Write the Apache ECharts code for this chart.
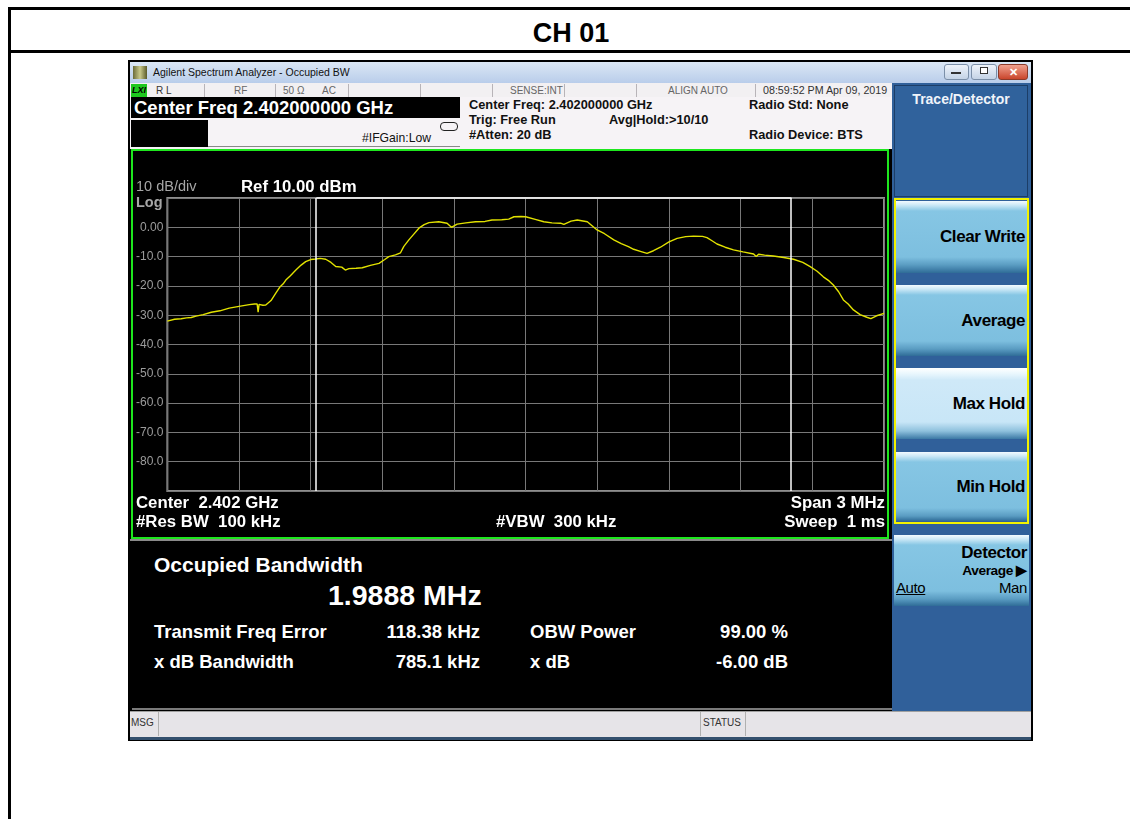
<!DOCTYPE html>
<html><head><meta charset="utf-8">
<script src="https://cdn.jsdelivr.net/npm/echarts@6/dist/echarts.min.js"></script>
<style>
html,body{margin:0;padding:0;background:#fff;width:1130px;height:819px;overflow:hidden;font-family:"Liberation Sans",Arial,sans-serif;}
.a{position:absolute;white-space:nowrap;}
.sb{position:absolute;top:84px;height:13px;font-size:10px;line-height:13px;color:#666;white-space:nowrap;}
.sep{position:absolute;top:84px;height:13px;width:1px;background:#b8b4b8;}
.hd{position:absolute;font-size:12.8px;font-weight:bold;color:#111;line-height:15px;white-space:nowrap;}
.btn{position:absolute;left:896px;width:131px;background:linear-gradient(to bottom,#f2faff 0px,#cde9f7 4px,#86c6e4 10px,#7dbfdf 56px,#5a9cc2 64px,#2f6c97 100%);}
.btn span{position:absolute;right:2px;font-weight:bold;font-size:17px;color:#000;letter-spacing:-0.4px;white-space:nowrap;}
.lp{position:absolute;color:#fff;font-weight:bold;white-space:nowrap;}
.r1{font-size:18.5px;line-height:22px;}
</style></head><body>
<!-- page frame -->
<div class="a" style="left:8px;top:7px;width:1130px;height:3px;background:#000"></div>
<div class="a" style="left:8px;top:7px;width:3px;height:812px;background:#000"></div>
<div class="a" style="left:8px;top:50px;width:1130px;height:3px;background:#000"></div>
<div class="a" style="left:471px;top:16px;width:200px;text-align:center;font-size:27px;font-weight:bold;line-height:34px;color:#000">CH 01</div>

<!-- screenshot window -->
<div class="a" style="left:128px;top:60px;width:905px;height:681px;background:#000"></div>
<div class="a" style="left:130px;top:62px;width:901px;height:21px;background:linear-gradient(to bottom,#dbe7f5,#b9cdea)"></div>
<div class="a" style="left:133px;top:66px;width:14px;height:13px;background:linear-gradient(to right,#6b6b3a,#c9c98a,#5b5b2a)"></div>
<div class="a" style="left:153px;top:66px;font-size:10.5px;line-height:13px;color:#111">Agilent Spectrum Analyzer - Occupied BW</div>
<div class="a" style="left:944px;top:64px;width:25px;height:16px;border-radius:3px;border:1px solid #7b8fa8;box-sizing:border-box;background:linear-gradient(#eef3fa,#c4d3e6)"></div>
<div class="a" style="left:951px;top:72px;width:10px;height:2px;background:#333"></div>
<div class="a" style="left:971px;top:64px;width:26px;height:16px;border-radius:3px;border:1px solid #7b8fa8;box-sizing:border-box;background:linear-gradient(#eef3fa,#c4d3e6)"></div>
<div class="a" style="left:980px;top:67px;width:8px;height:7px;border:1px solid #333;box-sizing:border-box;background:#fff"></div>
<div class="a" style="left:998px;top:64px;width:30px;height:16px;border-radius:3px;border:1px solid #8a3a2a;box-sizing:border-box;background:linear-gradient(#f0a08e,#c9452c);color:#fff;font-size:11px;font-weight:bold;text-align:center;line-height:14px">✕</div>

<!-- status row -->
<div class="a" style="left:130px;top:83px;width:762px;height:14px;background:#f2f0f2"></div>
<div class="a" style="left:131px;top:84px;width:16px;height:13px;background:#1ec81e;font-size:9px;font-weight:bold;font-style:italic;line-height:13px;color:#000;text-align:center">LXI</div>
<div class="sb" style="left:156px;color:#333">R L</div>
<div class="sep" style="left:204px"></div>
<div class="sb" style="left:234px">RF</div>
<div class="sep" style="left:275px"></div>
<div class="sb" style="left:283px">50 Ω</div>
<div class="sb" style="left:322px">AC</div>
<div class="sep" style="left:348px"></div>
<div class="sep" style="left:420px"></div>
<div class="sep" style="left:492px"></div>
<div class="sb" style="left:510px">SENSE:INT</div>
<div class="sep" style="left:564px"></div>
<div class="sep" style="left:636px"></div>
<div class="sb" style="left:668px">ALIGN AUTO</div>
<div class="sep" style="left:755px"></div>
<div class="sb" style="left:763px;color:#333;font-size:10.7px">08:59:52 PM Apr 09, 2019</div>

<!-- header -->
<div class="a" style="left:130px;top:97px;width:762px;height:52px;background:#f6f3f6"></div>
<div class="a" style="left:131px;top:97px;width:329px;height:21px;background:#000"></div>
<div class="a" style="left:134px;top:97px;font-size:18.5px;font-weight:bold;color:#fff;line-height:21px">Center Freq 2.402000000 GHz</div>
<div class="a" style="left:131px;top:120px;width:77px;height:27px;background:#000"></div>
<div class="a" style="left:208px;top:146px;width:252px;height:1px;background:#888"></div>
<div class="a" style="left:440px;top:122px;width:18px;height:9px;border:1px solid #222;border-radius:4px;box-sizing:border-box"></div>
<div class="a" style="left:362px;top:131px;font-size:12.2px;color:#111;line-height:14px">#IFGain:Low</div>
<div class="hd" style="left:469px;top:97px">Center Freq: 2.402000000 GHz</div>
<div class="hd" style="left:469px;top:112px">Trig: Free Run</div>
<div class="hd" style="left:469px;top:127px">#Atten: 20 dB</div>
<div class="hd" style="left:609px;top:112px">Avg|Hold:&gt;10/10</div>
<div class="hd" style="left:749px;top:97px">Radio Std: None</div>
<div class="hd" style="left:749px;top:127px">Radio Device: BTS</div>

<!-- display with chart -->
<div class="a" style="left:131px;top:149px;width:758px;height:390px;border:2px solid #1ee61e;box-sizing:border-box;background:#000">
  <div id="chart" style="position:absolute;left:0;top:0;width:754px;height:386px"></div>
</div>
<div class="a" style="left:130px;top:539px;width:762px;height:2px;background:#8a8a8a"></div>

<!-- lower results panel -->
<div class="a" style="left:132px;top:541px;width:756px;height:168px;background:#000"></div>
<div class="lp" style="left:154px;top:552px;font-size:21px;line-height:26px">Occupied Bandwidth</div>
<div class="lp" style="left:328px;top:578px;font-size:28.5px;line-height:34px">1.9888 MHz</div>
<div class="lp r1" style="left:154px;top:621px">Transmit Freq Error</div>
<div class="lp r1" style="left:330px;width:150px;text-align:right;top:621px">118.38 kHz</div>
<div class="lp r1" style="left:530px;top:621px">OBW Power</div>
<div class="lp r1" style="left:640px;width:148px;text-align:right;top:621px">99.00 %</div>
<div class="lp r1" style="left:154px;top:651px">x dB Bandwidth</div>
<div class="lp r1" style="left:330px;width:150px;text-align:right;top:651px">785.1 kHz</div>
<div class="lp r1" style="left:530px;top:651px">x dB</div>
<div class="lp r1" style="left:640px;width:148px;text-align:right;top:651px">-6.00 dB</div>
<div class="a" style="left:132px;top:708px;width:760px;height:2px;background:#7a7a7a"></div>

<!-- right softkey panel -->
<div class="a" style="left:892px;top:83px;width:139px;height:628px;background:#30609a"></div>
<div class="a" style="left:894px;top:85px;width:134px;height:112px;border:1px solid #1c3e68;box-sizing:border-box;background:#30629c"></div>
<div class="a" style="left:894px;top:91px;width:134px;text-align:center;font-size:14px;font-weight:bold;color:#f0f4fa">Trace/Detector</div>
<div class="btn" style="top:201px;height:72px"><span style="top:26px">Clear Write</span></div>
<div class="btn" style="top:285px;height:71px"><span style="top:26px">Average</span></div>
<div class="btn" style="top:368px;height:71px;background:linear-gradient(to bottom,#ffffff 0px,#e8f6fd 6px,#cfe9f8 12px,#c8e6f7 54px,#8fc1dd 63px,#3c79a5 100%)"><span style="top:26px">Max Hold</span></div>
<div class="btn" style="top:452px;height:69px"><span style="top:25px">Min Hold</span></div>
<div class="a" style="left:894px;top:198px;width:135px;height:326px;border:2px solid #f2f200;box-sizing:border-box"></div>
<div class="btn" style="left:894px;width:135px;top:535px;height:71px">
  <span style="top:8px;font-size:17px">Detector</span>
  <span style="top:27px;font-size:13.7px">Average ▶</span>
  <span style="top:44px;font-size:15px;font-weight:normal">Man</span>
  <span style="top:44px;left:2px;right:auto;font-size:15px;font-weight:normal;text-decoration:underline">Auto</span>
</div>

<!-- bottom status bar -->
<div class="a" style="left:130px;top:711px;width:901px;height:26px;background:#e6e4e8;border-top:1px solid #a0a0a0;box-sizing:border-box"></div>
<div class="a" style="left:131px;top:717px;font-size:10px;color:#333">MSG</div>
<div class="a" style="left:158px;top:712px;width:1px;height:24px;background:#b0b0b0"></div>
<div class="a" style="left:700px;top:712px;width:1px;height:24px;background:#b0b0b0"></div>
<div class="a" style="left:703px;top:717px;font-size:10px;color:#333">STATUS</div>
<div class="a" style="left:745px;top:712px;width:1px;height:24px;background:#b0b0b0"></div>
<div class="a" style="left:130px;top:737px;width:901px;height:3px;background:#34506e"></div>

<script>
// ---- data ----
const centerFreqGHz = 2.402;
const spanMHz = 3;
const refLevelDbm = 10;
const dbPerDiv = 10;
const obwMHz = 1.9888;
const freqErrorKHz = 118.38;
const yTickValues = [0, -10, -20, -30, -40, -50, -60, -70, -80];
const yTickLabels = ['0.00', '-10.0', '-20.0', '-30.0', '-40.0', '-50.0', '-60.0', '-70.0', '-80.0'];
// frequency offset from centre (MHz)
const freqOffsetMHz = [-1.500,-1.470,-1.442,-1.420,-1.400,-1.380,-1.350,-1.316,-1.280,-1.241,-1.200,-1.157,-1.135,-1.124,-1.120,-1.116,-1.100,-1.088,-1.066,-1.046,-1.030,-1.015,-1.004,-0.985,-0.962,-0.940,-0.921,-0.900,-0.879,-0.860,-0.837,-0.815,-0.795,-0.770,-0.755,-0.740,-0.710,-0.684,-0.650,-0.614,-0.590,-0.573,-0.545,-0.524,-0.510,-0.489,-0.470,-0.447,-0.425,-0.405,-0.364,-0.329,-0.311,-0.287,-0.250,-0.210,-0.170,-0.141,-0.100,-0.071,-0.049,-0.020,0.000,0.040,0.076,0.110,0.146,0.160,0.190,0.216,0.258,0.299,0.330,0.369,0.400,0.430,0.452,0.480,0.508,0.535,0.564,0.600,0.634,0.670,0.703,0.740,0.759,0.780,0.801,0.835,0.870,0.910,0.954,0.965,0.975,1.000,1.037,1.080,1.121,1.160,1.191,1.220,1.246,1.270,1.288,1.310,1.330,1.350,1.372,1.400,1.428,1.445,1.469,1.500];
const traceDbm = [-32.0,-31.4,-31.2,-30.9,-30.8,-30.3,-29.8,-29.0,-28.5,-27.6,-27.0,-26.4,-26.2,-26.2,-29.0,-26.3,-26.6,-26.5,-25.0,-22.5,-20.5,-19.3,-18.0,-16.5,-14.6,-12.9,-11.7,-11.0,-10.8,-10.6,-10.9,-12.0,-13.4,-13.6,-14.6,-14.1,-14.0,-13.8,-13.0,-12.3,-11.0,-10.0,-9.4,-8.7,-6.5,-4.3,-2.5,-0.3,0.9,1.6,1.9,1.4,0.0,1.1,1.5,1.9,2.0,2.5,2.6,2.8,3.6,3.7,3.6,2.7,1.9,1.5,1.4,1.0,2.1,2.5,1.9,-0.9,-2.2,-4.3,-5.6,-6.6,-7.5,-8.2,-8.9,-8.0,-6.8,-5.0,-3.8,-3.2,-3.0,-3.1,-3.5,-4.6,-5.7,-6.8,-7.7,-8.4,-9.1,-10.0,-9.2,-9.5,-9.8,-10.3,-10.9,-12.0,-13.4,-15.0,-16.9,-18.3,-19.7,-22.0,-24.8,-26.2,-28.2,-29.8,-30.7,-31.2,-30.2,-29.4];

const pairs = freqOffsetMHz.map((f, i) => [f, traceDbm[i]]);
const obwCenter = freqErrorKHz / 1000;
const obwLeft = obwCenter - obwMHz / 2;
const obwRight = obwCenter + obwMHz / 2;
const yMin = refLevelDbm - 10 * dbPerDiv;

const chart = echarts.init(document.getElementById('chart'), null, {renderer: 'canvas'});
const font = '"Liberation Sans", Arial, sans-serif';
function txt(x, y, s, fill, size, bold, align) {
  return {type: 'text', x: x, y: y, silent: true,
    style: {text: s, fill: fill, font: (bold ? 'bold ' : '') + size + 'px ' + font,
      textAlign: align || 'left', align: align || 'left', textVerticalAlign: 'middle', verticalAlign: 'middle'}};
}
chart.setOption({
  backgroundColor: '#000',
  animation: false,
  grid: {left: 33, top: 47, width: 718, height: 293, show: true, borderColor: '#8e8e8e', borderWidth: 2, backgroundColor: 'transparent'},
  xAxis: {type: 'value', min: -spanMHz / 2, max: spanMHz / 2, interval: spanMHz / 10,
    axisLine: {show: false}, axisTick: {show: false}, axisLabel: {show: false},
    splitLine: {show: true, lineStyle: {color: '#787878', width: 1}}},
  yAxis: {type: 'value', min: yMin, max: refLevelDbm, interval: dbPerDiv,
    axisLine: {show: false}, axisTick: {show: false},
    axisLabel: {color: '#9c9c9c', fontSize: 12, fontFamily: font, margin: 4,
      formatter: v => { const i = yTickValues.indexOf(Math.round(v)); return i >= 0 ? yTickLabels[i] : ''; }},
    splitLine: {show: true, lineStyle: {color: '#787878', width: 1}}},
  series: [{
    type: 'line', data: pairs, showSymbol: false, symbol: 'none',
    lineStyle: {color: '#e2e200', width: 1.4},
    markLine: {silent: true, symbol: 'none', label: {show: false}, animation: false,
      lineStyle: {color: '#ffffff', width: 1.5, type: 'solid'},
      data: [{xAxis: obwLeft}, {xAxis: obwRight},
        [{coord: [obwLeft, refLevelDbm]}, {coord: [obwRight, refLevelDbm]}]]}
  }],
  graphic: [
    txt(3, 36, '10 dB/div', '#a6a6a6', 14.5, false),
    txt(3, 52, 'Log', '#a6a6a6', 14.5, true),
    txt(108, 36, 'Ref 10.00 dBm', '#ffffff', 16.8, true),
    txt(3, 352, 'Center  ' + centerFreqGHz.toFixed(3) + ' GHz', '#ffffff', 16.8, true),
    txt(3, 371, '#Res BW  100 kHz', '#ffffff', 16.8, true),
    txt(363, 371, '#VBW  300 kHz', '#ffffff', 16.8, true),
    txt(752, 352, 'Span ' + spanMHz + ' MHz', '#ffffff', 16.8, true, 'right'),
    txt(752, 371, 'Sweep  1 ms', '#ffffff', 16.8, true, 'right')
  ]
});
</script>
</body></html>
